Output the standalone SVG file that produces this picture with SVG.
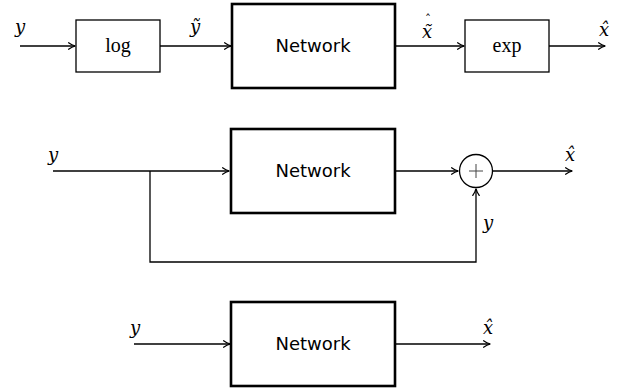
<svg xmlns="http://www.w3.org/2000/svg" width="625" height="392" viewBox="0 0 625 392">
<style>
.thin{fill:none;stroke:#000;stroke-width:1.3}
.thick{fill:#fff;stroke:#000;stroke-width:2.6}
.box{fill:#fff;stroke:#000;stroke-width:1.3}
.net{font-family:"DejaVu Sans","Noto Sans",sans-serif;font-size:18px;text-anchor:middle}
.math{font-family:"DejaVu Serif","Liberation Serif",serif;font-style:italic;font-size:18px;text-anchor:middle}
.op{font-family:"Liberation Serif","DejaVu Serif",serif;font-size:20px;text-anchor:middle}
.hat{font-style:normal;font-size:12px}
</style>
<defs>
<marker id="ah" viewBox="0 0 10 10" refX="9" refY="5" markerWidth="8" markerHeight="8" markerUnits="userSpaceOnUse" orient="auto">
<path d="M1,1 Q5,4 9.5,5 Q5,6 1,9" fill="none" stroke="#000" stroke-width="1.6" stroke-linecap="round"/>
</marker>
</defs>
<g id="connectors">
<line class="thin" x1="20" y1="46" x2="75" y2="46" marker-end="url(#ah)"/>
<line class="thin" x1="160" y1="46" x2="231" y2="46" marker-end="url(#ah)"/>
<line class="thin" x1="395" y1="46" x2="464" y2="46" marker-end="url(#ah)"/>
<line class="thin" x1="549" y1="46" x2="605" y2="46" marker-end="url(#ah)"/>
<line class="thin" x1="53" y1="171" x2="229" y2="171" marker-end="url(#ah)"/>
<line class="thin" x1="395" y1="171" x2="458" y2="171" marker-end="url(#ah)"/>
<line class="thin" x1="493" y1="171" x2="572" y2="171" marker-end="url(#ah)"/>
<polyline class="thin" points="150,171 150,262 476,262 476,189" marker-end="url(#ah)"/>
<line class="thin" x1="134" y1="344" x2="230" y2="344" marker-end="url(#ah)"/>
<line class="thin" x1="395" y1="344" x2="490" y2="344" marker-end="url(#ah)"/>
</g>
<g id="log">
<rect class="box" x="76" y="20" width="84" height="52"/>
<text class="op" x="118" y="52">log</text>
</g>
<g id="network1">
<rect class="thick" x="232" y="4" width="163" height="84"/>
<text class="net" x="313" y="52">Network</text>
</g>
<g id="exp">
<rect class="box" x="465" y="20" width="84" height="52"/>
<text class="op" x="507" y="52">exp</text>
</g>
<g id="network2">
<rect class="thick" x="231" y="129" width="164" height="84"/>
<text class="net" x="313" y="177">Network</text>
</g>
<g id="sum">
<circle cx="476" cy="171" r="16.5" fill="#fff" stroke="#000" stroke-width="1.3"/>
<line x1="469" y1="171" x2="483" y2="171" stroke="#444" stroke-width="1"/>
<line x1="476" y1="164" x2="476" y2="178" stroke="#444" stroke-width="1"/>
</g>
<g id="network3">
<rect class="thick" x="231" y="302" width="164" height="84"/>
<text class="net" x="313" y="350">Network</text>
</g>
<g id="labels">
<text class="math" x="20" y="33">y</text>
<text class="math" x="195" y="33">ỹ</text>
<text class="math" x="427" y="38">x̃<tspan class="hat" x="428" y="24">ˆ</tspan></text>
<text class="math" x="604" y="36">x̂</text>
<text class="math" x="53" y="161">y</text>
<text class="math" x="570" y="161">x̂</text>
<text class="math" x="488" y="229">y</text>
<text class="math" x="135" y="334">y</text>
<text class="math" x="488" y="334">x̂</text>
</g>
</svg>
